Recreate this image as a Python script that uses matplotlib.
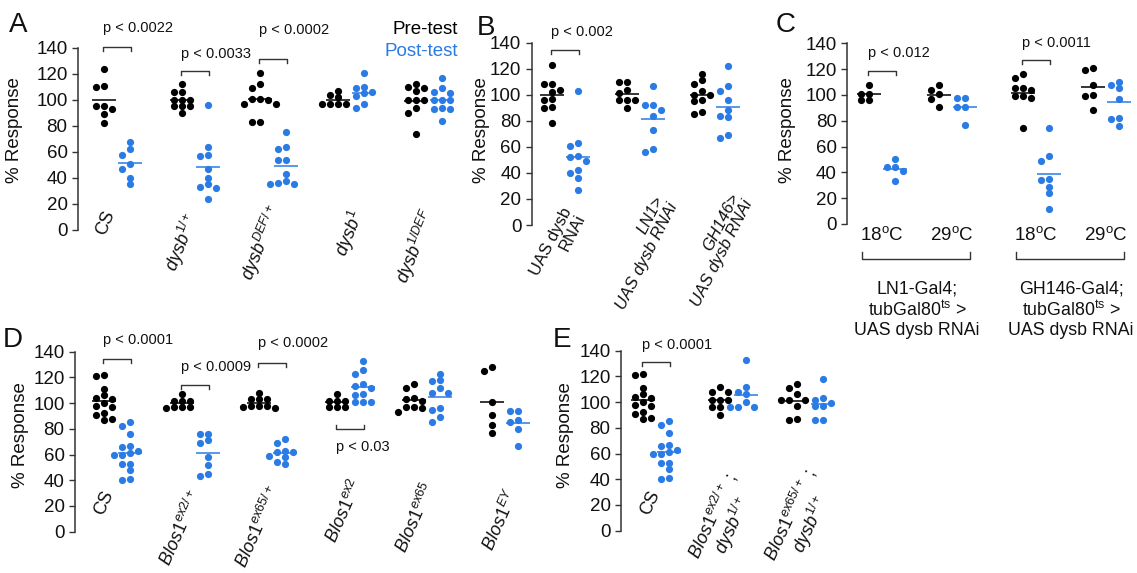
import numpy as np
import matplotlib
matplotlib.use("Agg")
import matplotlib.pyplot as plt

plt.rcParams['font.family'] = ['Liberation Sans', 'DejaVu Sans']
plt.rcParams['mathtext.fontset'] = 'custom'
plt.rcParams['mathtext.rm'] = 'Liberation Sans'
plt.rcParams['mathtext.it'] = 'Liberation Sans:italic'
plt.rcParams['mathtext.bf'] = 'Liberation Sans:bold'

BLUE = '#2b7be4'
W, H = 1137, 573

# ---- panel A: dysb mutants ----
a_labels = ["CS", r"$\mathit{dysb}^{\mathit{1/+}}$", r"$\mathit{dysb}^{\mathit{DEF/+}}$",
            r"$\mathit{dysb}^{\mathit{1}}$", r"$\mathit{dysb}^{\mathit{1/DEF}}$"]
a_pre = [[124, 111, 110, 95, 95, 93, 89, 82],
         [112, 106, 106, 100, 100, 100, 95, 95, 95, 90],
         [121, 112, 109, 101, 101, 100, 97, 97, 83, 83],
         [107, 104, 102, 97, 97, 97, 97],
         [112, 110, 109, 107, 100, 100, 100, 94, 90, 74]]
a_post = [[68, 62, 58, 51, 47, 40, 35],
          [96, 64, 58, 57, 47, 40, 35, 33, 32, 24],
          [75, 64, 62, 54, 54, 43, 38, 36, 35, 35],
          [121, 110, 109, 106, 105, 103, 97, 94],
          [117, 109, 106, 105, 100, 100, 100, 94, 93, 93, 84]]
a_pvals = [(0, 141, 155, "p < 0.0022"), (1, 122, 135, "p < 0.0033"), (2, 131.5, 154, "p < 0.0002")]

# ---- panel B: RNAi ----
b_labels = ["UAS dysb\nRNAi", "LN1>\nUAS dysb RNAi", "GH146>\nUAS dysb RNAi"]
b_italic = [False, True, True]
b_pre = [[123, 108, 108, 104, 102, 97, 96, 91, 90, 78],
         [110, 110, 104, 101, 96, 96, 96, 90],
         [116, 111, 108, 103, 100, 100, 96, 95, 87, 85]]
b_post = [[103, 63, 61, 53, 52, 49, 42, 40, 36, 27],
          [107, 92, 92, 88, 84, 73, 58, 56],
          [122, 107, 103, 96, 88, 84, 83, 69, 67]]
b_pvals = [(0, 134.5, 148.5, "p < 0.002")]

# ---- panel C: temperature shift ----
c_temps = [r"18$^{\mathrm{o}}$C", r"29$^{\mathrm{o}}$C", r"18$^{\mathrm{o}}$C", r"29$^{\mathrm{o}}$C"]
c_groups = ["LN1-Gal4;\ntubGal80$^{\mathrm{ts}}$ >\nUAS dysb RNAi",
            "GH146-Gal4;\ntubGal80$^{\mathrm{ts}}$ >\nUAS dysb RNAi"]
c_pre = [[108, 101, 101, 96, 96],
         [108, 104, 101, 97, 91],
         [116, 113, 105, 105, 104, 99, 99, 98, 74],
         [121, 119, 108, 100, 99, 88]]
c_post = [[50, 44, 44, 41, 33],
          [98, 98, 91, 91, 77],
          [74, 53, 49, 35, 34, 29, 24, 12],
          [110, 108, 105, 97, 82, 81, 76]]
c_pvals = [(0, 118.6, 132.6, "p < 0.012"), (2, 127, 140.3, "p < 0.0011")]

# ---- panel D: Blos1 mutants ----
cs_pre = [122, 121, 111, 106, 104, 103, 100, 98, 97, 92, 91, 88, 87]
cs_post = [85, 82, 76, 67, 66, 63, 61, 60, 60, 53, 53, 48, 41, 40]
d_labels = ["CS", r"$\mathit{Blos1}^{\mathit{ex2/+}}$", r"$\mathit{Blos1}^{\mathit{ex65/+}}$",
            r"$\mathit{Blos1}^{\mathit{ex2}}$", r"$\mathit{Blos1}^{\mathit{ex65}}$", r"$\mathit{Blos1}^{\mathit{EY}}$"]
d_pre = [cs_pre,
         [107, 102, 102, 102, 97, 97, 97, 96],
         [108, 103, 103, 103, 98, 98, 98, 97, 96],
         [107, 102, 102, 102, 97, 97, 97],
         [115, 112, 104, 103, 102, 97, 97, 96, 93],
         [128, 125, 101, 91, 83, 77]]
d_post = [cs_post,
          [76, 76, 71, 69, 58, 52, 45, 43],
          [72, 69, 63, 62, 62, 59, 58, 54, 53],
          [133, 126, 123, 115, 113, 112, 107, 106, 101, 101, 101],
          [123, 118, 117, 112, 108, 108, 96, 95, 89, 85],
          [94, 94, 87, 85, 80, 67]]
d_pvals = [(0, 134.3, 149, "p < 0.0001"), (1, 114, 128, "p < 0.0009"), (2, 131.2, 146.7, "p < 0.0002")]
d_pval_below = (3, 80, 66, "p < 0.03")

# ---- panel E: double heterozygotes ----
e_labels = ["CS",
            r"$\mathit{Blos1}^{\mathit{ex2/+}}$ ;" + "\n" + r"$\mathit{dysb}^{\mathit{1/+}}$",
            r"$\mathit{Blos1}^{\mathit{ex65/+}}$ ;" + "\n" + r"$\mathit{dysb}^{\mathit{1/+}}$"]
e_pre = [cs_pre,
         [112, 108, 108, 102, 102, 102, 96, 96, 90],
         [114, 111, 106, 102, 102, 102, 97, 87, 86]]
e_post = [cs_post,
          [133, 112, 108, 106, 100, 96, 96, 96],
          [118, 103, 102, 99, 97, 97, 86, 86]]
e_pvals = [(0, 131.2, 144.4, "p < 0.0001")]

# centres of the rotated category labels (pixels, from top-left)
a_lab_xy = [(106, 223), (182, 242), (262, 243), (350, 233), (416, 247)]
b_lab_xy = [(558, 245), (640, 253), (715, 250)]
d_lab_xy = [(104, 503), (181, 528), (258, 527), (344, 511), (416, 518), (501, 520)]
e_lab_xy = [(650, 503), (723, 521), (801, 520)]

fig = plt.figure(figsize=(W / 100, H / 100), dpi=100)


def add_panel(left, right, top, bottom, first, step):
    ax = fig.add_axes([left / W, 1 - bottom / H, (right - left) / W, (bottom - top) / H])
    ax.set_xlim((left - first) / step, (right - first) / step)
    ax.set_ylim(0, 140)
    for s in ['top', 'right', 'bottom']:
        ax.spines[s].set_visible(False)
    ax.spines['left'].set_linewidth(1.1)
    ax.spines['left'].set_color('#333333')
    ax.set_yticks(range(0, 141, 20))
    ax.tick_params(axis='y', length=4.5, width=1.0, pad=3, labelsize=13.5,
                   color='#333333', labelcolor='#111111')
    ax.set_xticks([])
    ax.patch.set_visible(False)
    ax.px = (step, (bottom - top) / 140.0)
    return ax


def swarm(vals, ypx, col=8.0, diam=6.2):
    vals = np.asarray(vals, float)
    offs = np.zeros(len(vals))
    placed = []
    for i in np.argsort(-vals, kind='stable'):
        y = vals[i] * ypx
        best, best_d = 0.0, -1.0
        for k in [0, -1, 1, -2, 2]:
            x = k * col
            d = min([np.hypot(x - px, y - py) for px, py in placed] or [99.0])
            if d >= diam:
                best = x
                break
            if d > best_d:
                best, best_d = x, d
        placed.append((best, y))
        offs[i] = best
    return offs


def draw_pairs(ax, pre, post, positions=None):
    step, ypx = ax.px
    if positions is None:
        positions = range(len(pre))
    off = 13 / step
    half = 12 / step
    for p, a, b in zip(positions, pre, post):
        for vals, xc, col in [(a, p - off, 'black'), (b, p + off, BLUE)]:
            o = swarm(vals, ypx) / step
            ax.scatter(xc + o, vals, s=27, color=col, lw=0, zorder=3, clip_on=False)
            m = np.mean(vals)
            ax.plot([xc - half, xc + half], [m, m], color=col, lw=1.1, zorder=4,
                    solid_capstyle='butt', clip_on=False)


def brackets(ax, pvals, positions=None, below=False):
    step, ypx = ax.px
    h = 14 / step
    t = 4 / ypx
    for i, y, ty, txt in pvals:
        xc = i if positions is None else positions[i]
        yt = y + t if below else y - t
        ax.plot([xc - h, xc - h, xc + h, xc + h], [yt, y, y, yt], color='#333333', lw=1.0,
                clip_on=False)
        ax.text(xc - h, ty, txt, ha='left', va='center', fontsize=10.5, color='#111111')


def xlabels(labels, centres, rot, italic=None, malign='right', size=13):
    for i, (lab, (x, y)) in enumerate(zip(labels, centres)):
        style = 'italic' if (italic is not None and italic[i]) else 'normal'
        fig.text(x / W, 1 - y / H, lab, ha='center', va='center', rotation=rot,
                 fontsize=size, fontstyle=style, multialignment=malign, linespacing=1.0,
                 color='#111111')


def ylabel(x, y):
    fig.text(x / W, 1 - y / H, "% Response", rotation=90, ha='center', va='center',
             fontsize=13.5, color='#111111')


def letter(x, y, s):
    fig.text(x / W, 1 - y / H, s, ha='left', va='baseline', fontsize=20, color='#111111')


# A
axA = add_panel(78, 470, 48, 230, 117, 78)
draw_pairs(axA, a_pre, a_post)
brackets(axA, a_pvals)
xlabels(a_labels, a_lab_xy, 68)
axA.text(4.37, 154, "Pre-test", ha='right', va='center', fontsize=13.5, color='black')
axA.text(4.37, 137, "Post-test", ha='right', va='center', fontsize=13.5, color=BLUE)
ylabel(15, 130)
letter(9, 32, "A")

# B
axB = add_panel(531.7, 750, 42.7, 225, 565, 75)
draw_pairs(axB, b_pre, b_post)
brackets(axB, b_pvals)
xlabels(b_labels, b_lab_xy, 63, italic=b_italic, size=12)
ylabel(482, 130)
letter(477, 35, "B")

# C
c_pos = [0, 1, 2.2, 3.2]
axC = add_panel(847.3, 1135, 43.3, 224, 882, 70)
draw_pairs(axC, c_pre, c_post, c_pos)
brackets(axC, c_pvals, c_pos)
for p, t in zip(c_pos, c_temps):
    axC.text(p, -8.5, t, ha='center', va='center', fontsize=13.5, color='#111111', clip_on=False)
for g, grp in enumerate(c_groups):
    p0, p1 = c_pos[2 * g], c_pos[2 * g + 1]
    axC.plot([p0 - 0.29, p0 - 0.29, p1 + 0.25, p1 + 0.25], [-21.7, -27, -27, -21.7],
             color='#333333', lw=1.0, clip_on=False)
    axC.text((p0 + p1) / 2, -44, grp, ha='center', va='top', fontsize=12.8,
             multialignment='center', linespacing=1.15, color='#111111', clip_on=False)
ylabel(787, 130)
letter(776, 32, "C")

# D
axD = add_panel(75, 545, 351.7, 531.7, 117, 77.6)
draw_pairs(axD, d_pre, d_post)
brackets(axD, d_pvals)
brackets(axD, [d_pval_below], below=True)
xlabels(d_labels, d_lab_xy, 66)
ylabel(21, 435)
letter(3, 347, "D")

# E
axE = add_panel(621, 850, 350.7, 530.7, 656, 77)
draw_pairs(axE, e_pre, e_post)
brackets(axE, e_pvals)
xlabels(e_labels, e_lab_xy, 65, malign='center')
ylabel(565, 435)
letter(553, 347, "E")

fig.savefig("out.png", dpi=100)
